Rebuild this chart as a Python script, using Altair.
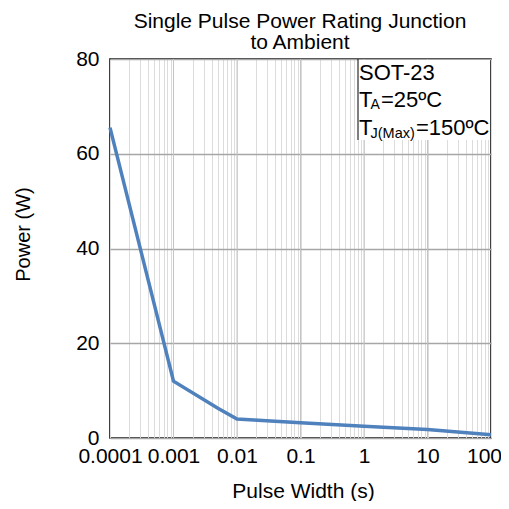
import altair as alt
import pandas as pd

# ---- data ----
pulse_width = [0.0001, 0.001, 0.005, 0.01, 0.1, 1, 10, 100]
power = [65.5, 12.0, 6.3, 4.0, 3.2, 2.5, 1.8, 0.7]

decades = [0.0001, 0.001, 0.01, 0.1, 1, 10, 100]
decade_labels = ["0.0001", "0.001", "0.01", "0.1", "1", "10", "100"]
y_ticks = [0, 20, 40, 60, 80]
minor_mult = [1, 2, 3, 4, 5, 6, 7, 8, 9]

title_lines = ["Single Pulse Power Rating Junction", "to Ambient"]
x_title = "Pulse Width (s)"
y_title = "Power (W)"
note_line1 = "SOT-23"
note_T = "T"
note_sub_a = "A"
note_rest_a = "=25ºC"
note_sub_j = "J(Max)"
note_rest_j = "=150ºC"

FONT = "Liberation Sans"
W, H = 381, 379

x_values = [d * m for d in decades[:-1] for m in minor_mult] + [decades[-1]]
label_expr = (
    "[" + ",".join("'%s'" % s for s in decade_labels) + "]"
    + "[indexof([" + ",".join(repr(d) for d in decades) + "], datum.value)] || ''"
)

xscale = alt.Scale(type="log", domain=[decades[0], decades[-1]], nice=False)
yscale = alt.Scale(domain=[y_ticks[0], y_ticks[-1]], nice=False)

xaxis = alt.Axis(
    values=x_values, labelExpr=label_expr, grid=True, gridColor="#dcdcdc", gridWidth=1,
    domain=False, ticks=False, tickSize=0, labelPadding=7, labelFontSize=21, labelFont=FONT,
    labelColor="black", labelOverlap=False, labelFlush=False, labelBound=False,
    labelOffset={"condition": {"test": "datum.value >= 100", "value": -7}, "value": 0},
    title=x_title, titleFontSize=21, titleFont=FONT, titleFontWeight="normal", titleColor="black",
    titleX=193, titleY=59, titleBaseline="alphabetic", titleAlign="center",
)
yaxis = alt.Axis(
    values=y_ticks, grid=True, gridColor="#a6a6a6", gridWidth=1.5,
    domain=False, ticks=False, tickSize=0, labelPadding=11, labelFontSize=21, labelFont=FONT,
    labelColor="black", labelFlush=False,
    title=y_title, titleFontSize=20, titleFont=FONT, titleFontWeight="normal", titleColor="black",
    titleX=-81, titleY=175, titleAngle=270, titleBaseline="alphabetic", titleAlign="center",
)

df = pd.DataFrame({"x": pulse_width, "y": power})
one = pd.DataFrame({"k": [0]})

decade_rules = alt.Chart(pd.DataFrame({"d": decades[1:-1]})).mark_rule(
    color="#c4c4c4", strokeWidth=1
).encode(x=alt.X("d:Q", scale=xscale, axis=xaxis))

line = alt.Chart(df).mark_line(color="#4F81BD", strokeWidth=3.5).encode(
    x=alt.X("x:Q", scale=xscale, axis=xaxis),
    y=alt.Y("y:Q", scale=yscale, axis=yaxis),
)

box = alt.Chart(one).mark_rect(fill="white", stroke=None).encode(
    x=alt.value(248), x2=alt.value(380), y=alt.value(1), y2=alt.value(81)
)
box_edge = alt.Chart(one).mark_rule(color="black", strokeWidth=1).encode(
    x=alt.value(248), y=alt.value(0), y2=alt.value(81)
)


def txt(s, x, y, size, align="left"):
    return alt.Chart(one).mark_text(
        text=s, font=FONT, fontSize=size, color="black", align=align, baseline="alphabetic"
    ).encode(x=alt.value(x), y=alt.value(y))


notes = [
    txt(note_line1, 249, 20.5, 22),
    txt(note_T, 249, 48, 22),
    txt(note_sub_a, 260.5, 49.5, 14),
    txt(note_rest_a, 271, 48, 22),
    txt(note_T, 249, 76, 22),
    txt(note_sub_j, 260.5, 78.5, 14.5),
    txt(note_rest_j, 306, 76, 22),
]

titles = [
    txt(title_lines[0], 190, -31, 21, "center"),
    txt(title_lines[1], 190, -10, 21, "center"),
]

chart = alt.layer(decade_rules, line, box, box_edge, *notes, *titles).properties(
    width=W,
    height=H,
    autosize=alt.AutoSizeParams(type="none"),
    padding={"left": 102, "top": 51, "right": 10, "bottom": 63},
).configure_view(stroke="black", strokeWidth=1.5)

chart.save("out.html", embed_options={"renderer": "svg", "actions": False})
